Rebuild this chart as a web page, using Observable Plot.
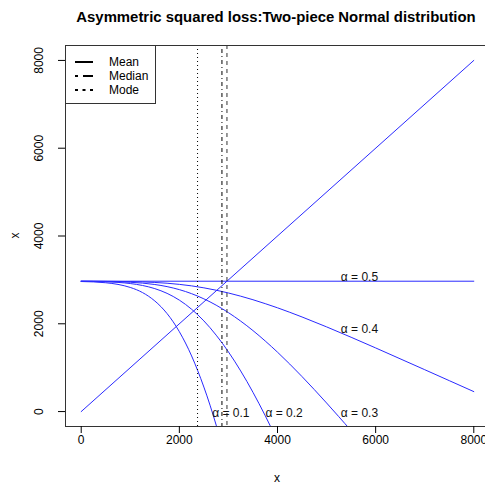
<!DOCTYPE html>
<html><head><meta charset="utf-8">
<script src="https://cdn.jsdelivr.net/npm/d3@7"></script>
<script src="https://cdn.jsdelivr.net/npm/@observablehq/plot@0.6"></script>
<style>body{margin:0;background:#fff;overflow:hidden}</style>
</head><body><div id="chart"></div>
<script>
// ---- data ----
const titleText = "Asymmetric squared loss:Two-piece Normal distribution";
const xTicks = [0, 2000, 4000, 6000, 8000];
const yTicks = [0, 2000, 4000, 6000, 8000];

const diagX = [0, 8000];
const diagY = [0, 8000];

const a05X = [0, 8000];
const a05Y = [2970, 2970];

const a04X = [0,500,1000,1250,1500,1750,2000,2250,2500,2750,3000,3250,3500,3750,4000,4500,5000,5500,6000,7000,8000];
const a04Y = [2970,2968,2961,2954,2942,2924,2898,2864,2819,2765,2702,2629,2548,2459,2364,2155,1930,1693,1450,954,455];

const a03X = [0,500,1000,1250,1500,1750,2000,2250,2500,2750,3000,3250,3500,3750,4000,4250,4500,4750,5000,5250,5500];
const a03Y = [2969,2964,2946,2927,2895,2847,2778,2686,2568,2424,2254,2061,1845,1608,1353,1082,797,501,196,-117,-435];

const a02X = [0,500,750,1000,1250,1500,1750,2000,2125,2250,2375,2500,2625,2750,2875,3000,3125,3250,3375,3500,3625,3750,4000];
const a02Y = [2967,2957,2943,2917,2873,2801,2693,2539,2442,2331,2205,2066,1911,1741,1559,1360,1150,925,689,439,178,-94,-667];

const a01X = [0,500,750,1000,1250,1500,1625,1750,1875,2000,2125,2250,2375,2500,2625,2750,2875];
const a01Y = [2963,2935,2897,2828,2711,2520,2390,2232,2044,1820,1562,1267,930,558,146,-307,-794];

const modeX = 2371;
const medianX = 2868;
const meanX = 2970;

const labelText = ["α = 0.1", "α = 0.2", "α = 0.3", "α = 0.4", "α = 0.5"];
const labelX = [3050, 4135, 5670, 5670, 5670];
const labelY = [-32, -32, -32, 1870, 3072];

const legendNames = ["Mean", "Median", "Mode"];

// ---- build tables ----
const seriesList = [
  ["diag", diagX, diagY], ["0.5", a05X, a05Y], ["0.4", a04X, a04Y],
  ["0.3", a03X, a03Y], ["0.2", a02X, a02Y], ["0.1", a01X, a01Y]
];
const rows = [];
for (const [s, xs, ys] of seriesList) xs.forEach((x, i) => rows.push({series: s, x, y: ys[i]}));
const labels = labelText.map((t, i) => ({text: t, x: labelX[i], y: labelY[i]}));

const chart = Plot.plot({
  width: 485, height: 484,
  marginLeft: 65, marginRight: -4, marginTop: 45, marginBottom: 58,
  style: {fontFamily: "'Liberation Sans', Arial, sans-serif", fontSize: "12px", background: "white", color: "#000"},
  x: {domain: [-320, 8320]},
  y: {domain: [-340, 8340]},
  marks: [
    Plot.line(rows, {x: "x", y: "y", z: "series", stroke: "#2a2aff", strokeWidth: 1, curve: "monotone-x", clip: true}),
    Plot.ruleX([modeX], {stroke: "#000", strokeWidth: 1, strokeDasharray: "1,3"}),
    Plot.ruleX([medianX], {stroke: "#000", strokeWidth: 1, strokeDasharray: "1,3,4,3"}),
    Plot.ruleX([meanX], {stroke: "#333", strokeWidth: 1, strokeDasharray: "4,4"}),
    Plot.text(labels, {x: "x", y: "y", text: "text", fontSize: 12, fill: "#111"}),
    Plot.frame({stroke: "#333"}),
    Plot.axisX({ticks: xTicks, tickSize: 7, tickPadding: 2, tickFormat: d => String(d), label: null, fontSize: 12}),
    Plot.axisY({ticks: yTicks, tickSize: 7, tickPadding: 16, tickRotate: -90, tickFormat: d => String(d), label: null, fontSize: 12})
  ]
});
document.getElementById("chart").appendChild(chart);

const svg = d3.select(chart);
svg.append("text").attr("x", 276).attr("y", 22).attr("text-anchor", "middle")
  .attr("font-size", "14.9px").attr("font-weight", "bold").attr("fill", "#000")
  .attr("font-family", "'Liberation Sans', Arial, sans-serif").text(titleText);
svg.append("text").attr("x", 277).attr("y", 482).attr("text-anchor", "middle")
  .attr("font-size", "12px").attr("fill", "#000").text("x");
svg.append("text").attr("transform", "translate(19,235.5) rotate(-90)").attr("text-anchor", "middle")
  .attr("font-size", "12px").attr("fill", "#000").text("x");

// legend
const lg = svg.append("g");
lg.append("rect").attr("x", 65.5).attr("y", 45.5).attr("width", 90).attr("height", 58)
  .attr("fill", "white").attr("stroke", "#333");
const legDash = [null, "3,5,10,5", "3,4.5"];
const legY = [62, 76, 90];
legendNames.forEach((n, i) => {
  const l = lg.append("line").attr("x1", 75).attr("x2", 93).attr("y1", legY[i]).attr("y2", legY[i])
    .attr("stroke", "#000").attr("stroke-width", 2);
  if (legDash[i]) l.attr("stroke-dasharray", legDash[i]);
  lg.append("text").attr("x", 109).attr("y", legY[i] + 4.3).attr("text-anchor", "start")
    .attr("font-size", "12px").attr("fill", "#000").text(n);
});
</script>
</body></html>
